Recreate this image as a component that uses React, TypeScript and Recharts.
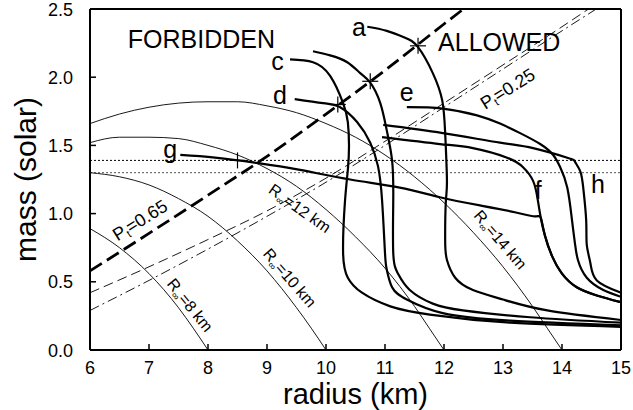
import { ComposedChart, Line, Scatter, XAxis, YAxis, ReferenceLine, ReferenceDot, Label } from 'recharts';

// tick values
const xTicks = [6, 7, 8, 9, 10, 11, 12, 13, 14, 15];
const yTicks = [0, 0.5, 1.0, 1.5, 2.0, 2.5];

// EOS mass-radius curves, [radius km, mass solar]
const curveA = [[10.70, 2.37], [11.03, 2.34], [11.34, 2.29], [11.56, 2.22], [11.81, 2.03], [11.97, 1.83], [12.02, 1.59], [12.05, 1.24], [12.03, 1.08], [12.02, 0.80], [12.05, 0.66], [12.19, 0.53], [12.49, 0.44], [13.0, 0.37], [13.75, 0.29], [15.0, 0.22]];
const curveB = [[9.78, 2.19], [10.07, 2.16], [10.36, 2.11], [10.58, 2.03], [10.75, 1.96], [10.92, 1.81], [11.03, 1.61], [11.12, 1.39], [11.14, 1.10], [11.14, 0.71], [11.22, 0.56], [11.42, 0.44], [11.81, 0.34], [12.32, 0.29], [13.46, 0.24], [15.0, 0.20]];
const curveC = [[9.39, 2.13], [9.78, 2.11], [10.07, 2.01], [10.29, 1.81], [10.37, 1.67], [10.39, 1.50], [10.37, 1.32], [10.32, 1.08], [10.29, 0.71], [10.37, 0.53], [10.61, 0.42], [11.09, 0.32], [11.76, 0.26], [13.12, 0.20], [15.0, 0.17]];
const curveD = [[9.47, 1.84], [9.95, 1.81], [10.24, 1.78], [10.53, 1.67], [10.75, 1.52], [10.88, 1.35], [10.95, 1.10], [11.0, 0.71], [11.03, 0.59], [11.12, 0.46], [11.37, 0.37], [11.98, 0.27], [13.12, 0.215], [15.0, 0.18]];
const curveE = [[11.37, 1.78], [11.98, 1.77], [12.56, 1.72], [12.95, 1.66], [13.29, 1.59], [13.63, 1.51], [13.85, 1.43], [13.97, 1.34], [14.09, 1.19], [14.17, 0.95], [14.22, 0.78], [14.27, 0.66], [14.42, 0.53], [14.70, 0.44], [15.0, 0.39]];
const curveF = [[10.95, 1.56], [11.93, 1.51], [12.49, 1.48], [13.07, 1.41], [13.34, 1.34], [13.51, 1.24], [13.59, 1.10], [13.64, 0.97], [13.71, 0.84], [13.83, 0.69], [14.0, 0.56], [14.25, 0.46], [14.59, 0.40], [15.0, 0.35]];
const curveG = [[7.53, 1.43], [8.12, 1.41], [8.85, 1.37], [9.56, 1.32], [10.41, 1.25], [11.25, 1.19], [11.93, 1.12], [12.61, 1.06], [13.20, 1.01], [13.54, 0.98], [13.64, 0.97], [13.71, 0.84], [13.83, 0.69], [14.0, 0.56], [14.25, 0.46], [14.59, 0.40], [15.0, 0.35]];
const curveH = [[10.97, 1.65], [11.98, 1.59], [12.95, 1.52], [13.51, 1.48], [14.09, 1.41], [14.22, 1.38], [14.31, 1.31], [14.36, 1.19], [14.41, 0.95], [14.42, 0.77], [14.48, 0.64], [14.59, 0.51], [15.0, 0.42]];

// constant R_inf contours
const rInf8 = [[6, 0.89], [6.5, 0.75], [7, 0.56], [7.5, 0.31], [7.75, 0.16], [8, 0]];
const rInf10 = [[6, 1.30], [6.5, 1.27], [7, 1.21], [7.5, 1.11], [8, 0.98], [8.5, 0.80], [9, 0.58], [9.5, 0.31], [9.75, 0.16], [10, 0]];
const rInf12 = [[6, 1.52], [6.5, 1.56], [7, 1.56], [7.5, 1.55], [8, 1.50], [8.5, 1.43], [9, 1.33], [9.5, 1.20], [10, 1.03], [10.5, 0.83], [11, 0.60], [11.5, 0.32], [11.75, 0.16], [12, 0]];
const rInf14 = [[6, 1.66], [6.5, 1.73], [7, 1.78], [7.5, 1.81], [8, 1.82], [8.5, 1.82], [9, 1.79], [9.5, 1.74], [10, 1.66], [10.5, 1.56], [11, 1.43], [11.5, 1.27], [12, 1.08], [12.5, 0.86], [13, 0.61], [13.5, 0.32], [13.75, 0.16], [14, 0]];

// transition pressure contours
const pt65 = [[6, 0.58], [7, 0.855], [8, 1.135], [9, 1.42], [10, 1.73], [11, 2.05], [12, 2.39], [12.33, 2.5]];
const pt25a = [[6, 0.42], [7, 0.61], [8, 0.81], [9, 1.02], [10, 1.26], [11, 1.53], [12, 1.81], [13, 2.09], [14, 2.37], [14.45, 2.5]];
const pt25b = [[6, 0.29], [7, 0.51], [8, 0.74], [9, 0.98], [10, 1.23], [11, 1.50], [12, 1.78], [13, 2.06], [14, 2.34], [14.58, 2.5]];

const crossings = [[8.5, 1.39], [10.2, 1.80], [10.75, 1.97], [11.56, 2.23]];
const massLines = [1.39, 1.30];

const FONT = 'Liberation Sans, Arial, Helvetica, sans-serif';
const pts = (a: number[][]) => a.map(([x, y]) => ({ x, y }));

const BottomTick = (p: any) => (
  <g>
    <line x1={p.x} x2={p.x} y1={p.y} y2={p.y - 6} stroke="#000" strokeWidth={1.5} />
    <text x={p.x} y={p.y + 24} textAnchor="middle" fontSize={18} fontFamily={FONT} fill="#000">{p.payload.value}</text>
  </g>
);
const LeftTick = (p: any) => (
  <g>
    <line x1={p.x} x2={p.x + 6} y1={p.y} y2={p.y} stroke="#000" strokeWidth={1.5} />
    <text x={p.x - 17} y={p.y + 6.5} textAnchor="end" fontSize={18} fontFamily={FONT} fill="#000">{Number(p.payload.value).toFixed(1)}</text>
  </g>
);
const TopTick = (p: any) => <line x1={p.x} x2={p.x} y1={p.y} y2={p.y + 6} stroke="#000" strokeWidth={1.5} />;
const RightTick = (p: any) => <line x1={p.x} x2={p.x - 6} y1={p.y} y2={p.y} stroke="#000" strokeWidth={1.5} />;

const plus = (p: any) => (
  <g stroke="#000" strokeWidth={1.2}>
    <line x1={p.cx - 8} x2={p.cx + 8} y1={p.cy} y2={p.cy} />
    <line x1={p.cx} x2={p.cx} y1={p.cy - 8} y2={p.cy + 8} />
  </g>
);

const word = (text: string, size: number) => (p: any) => (
  <text x={p.cx} y={p.cy} fontSize={size} fontFamily={FONT} fill="#000">{text}</text>
);
const rLabel = (value: string, rot: number) => (p: any) => (
  <text transform={`translate(${p.cx},${p.cy}) rotate(${rot})`} textAnchor="middle" dominantBaseline="central" fontSize={16} fontFamily={FONT} fill="#000">
    R<tspan fontSize={10} dy={5}>∞</tspan><tspan dy={-5}>{value}</tspan>
  </text>
);
const pLabel = (value: string, rot: number) => (p: any) => (
  <text transform={`translate(${p.cx},${p.cy}) rotate(${rot})`} textAnchor="middle" dominantBaseline="central" fontSize={18} fontFamily={FONT} fill="#000">
    P<tspan fontSize={11} dy={5}>t</tspan><tspan dy={-5}>{value}</tspan>
  </text>
);

const annotations: [number, number, (p: any) => any][] = [
  [6.64, 2.215, word('FORBIDDEN', 25)],
  [11.9, 2.19, word('ALLOWED', 25)],
  [10.44, 2.30, word('a', 25)],
  [9.07, 2.05, word('c', 25)],
  [9.10, 1.806, word('d', 25)],
  [11.25, 1.827, word('e', 25)],
  [13.54, 1.104, word('f', 25)],
  [7.24, 1.404, word('g', 25)],
  [14.49, 1.148, word('h', 25)],
  [6.85, 0.95, pLabel('=0.65', -32)],
  [13.08, 1.915, pLabel('=0.25', -32)],
  [7.70, 0.33, rLabel('=8 km', 51)],
  [9.39, 0.53, rLabel('=10 km', 49)],
  [9.56, 1.04, rLabel('=12 km', 35)],
  [12.96, 0.81, rLabel('=14 km', 49)],
];

const eos = [curveA, curveB, curveC, curveD, curveE, curveF, curveG, curveH];
const rInf = [rInf8, rInf10, rInf12, rInf14];

export default function App() {
  return (
    <div style={{ position: 'absolute', left: 0, top: 0, width: 633, height: 410, background: '#fff' }}>
      <ComposedChart width={633} height={410} margin={{ top: 0, right: 0, bottom: 0, left: 0 }}>
        <XAxis type="number" dataKey="x" domain={[6, 15]} ticks={xTicks} interval={0} allowDataOverflow height={60}
          tickSize={0} tickMargin={0} tickLine={false} axisLine={{ stroke: '#000', strokeWidth: 2 }} tick={<BottomTick />}>
          <Label content={(p: any) => (
            <text x={p.viewBox.x + p.viewBox.width / 2} y={p.viewBox.y + 54} textAnchor="middle" fontSize={29} fontFamily={FONT} fill="#000">radius (km)</text>
          )} />
        </XAxis>
        <XAxis xAxisId="top" orientation="top" type="number" dataKey="x" domain={[6, 15]} ticks={xTicks} interval={0} height={9}
          tickSize={0} tickMargin={0} tickLine={false} axisLine={{ stroke: '#000', strokeWidth: 2 }} tick={<TopTick />} />
        <YAxis type="number" dataKey="y" domain={[0, 2.5]} ticks={yTicks} interval={0} allowDataOverflow width={90}
          tickSize={0} tickMargin={0} tickLine={false} axisLine={{ stroke: '#000', strokeWidth: 2 }} tick={<LeftTick />}>
          <Label content={(p: any) => {
            const cx = p.viewBox.x + p.viewBox.width - 54;
            const cy = p.viewBox.y + p.viewBox.height / 2;
            return <text transform={`translate(${cx},${cy}) rotate(-90)`} textAnchor="middle" fontSize={30} fontFamily={FONT} fill="#000">mass (solar)</text>;
          }} />
        </YAxis>
        <YAxis yAxisId="right" orientation="right" type="number" domain={[0, 2.5]} ticks={yTicks} interval={0} width={12}
          tickSize={0} tickMargin={0} tickLine={false} axisLine={{ stroke: '#000', strokeWidth: 2 }} tick={<RightTick />} />

        {massLines.map((m, i) => (
          <ReferenceLine key={m} y={m} stroke={i === 0 ? '#000' : '#555'} strokeWidth={1} strokeDasharray="2 2" />
        ))}

        {rInf.map((c, i) => (
          <Line key={'r' + i} data={pts(c)} dataKey="y" type="monotone" stroke="#000" strokeWidth={0.9} dot={false} activeDot={false} isAnimationActive={false} />
        ))}
        <Line data={pts(pt25a)} dataKey="y" type="monotone" stroke="#000" strokeWidth={0.9} strokeDasharray="10 5" dot={false} activeDot={false} isAnimationActive={false} />
        <Line data={pts(pt25b)} dataKey="y" type="monotone" stroke="#000" strokeWidth={0.9} strokeDasharray="10 4 2 4" dot={false} activeDot={false} isAnimationActive={false} />
        <Line data={pts(pt65)} dataKey="y" type="monotone" stroke="#000" strokeWidth={2.8} strokeDasharray="14 6" dot={false} activeDot={false} isAnimationActive={false} />

        {eos.map((c, i) => (
          <Line key={'e' + i} data={pts(c)} dataKey="y" type="natural" stroke="#000" strokeWidth={2.2} dot={false} activeDot={false} isAnimationActive={false} />
        ))}

        <Scatter data={pts(crossings)} dataKey="y" shape={plus} isAnimationActive={false} />

        {annotations.map(([x, y, shape], i) => (
          <ReferenceDot key={'t' + i} x={x} y={y} r={0} ifOverflow="visible" shape={shape} />
        ))}
      </ComposedChart>
    </div>
  );
}
